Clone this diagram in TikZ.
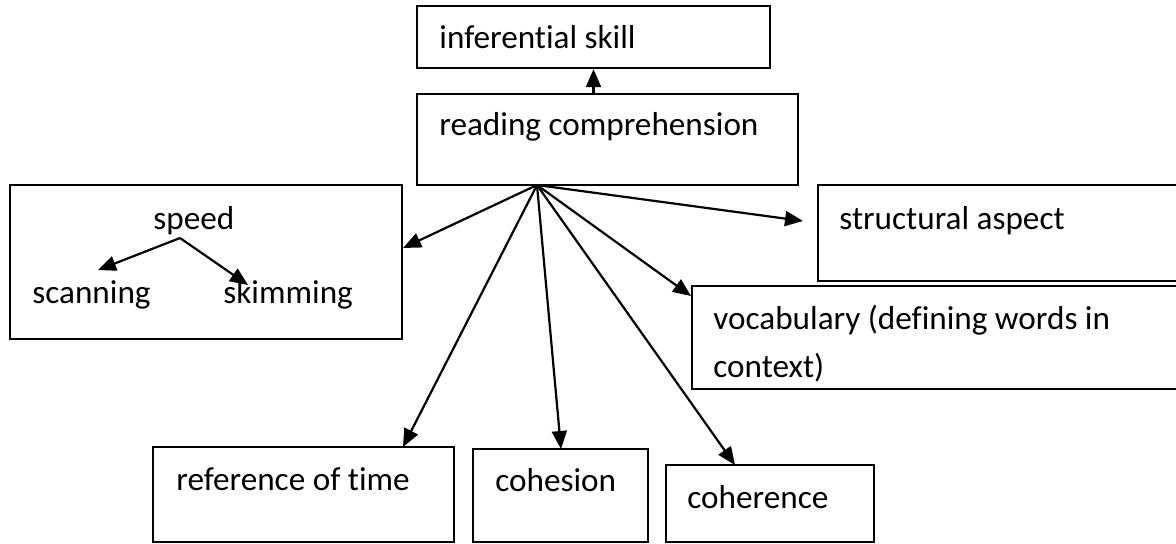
\documentclass[tikz,border=0pt]{standalone}
\usepackage{fontspec}
\setmainfont{Carlito}[Ligatures=NoCommon]
\usetikzlibrary{arrows.meta,fit}
\begin{document}
\begin{tikzpicture}[x=0.5pt,y=-0.5pt,
  box/.style={draw,line width=1.1pt,inner sep=0pt},
  lbl/.style={anchor=base west,inner sep=0pt,font=\fontsize{16.6}{24}\selectfont},
  arr/.style={line width=1.1pt,-{Triangle[length=9pt,width=7.5pt]}}]
\useasboundingbox (0,0) rectangle (1176,543);
% boxes
\node[box,fit={(417,6) (770,68)}] (inf) {};
\node[box,fit={(417,94) (798,185)}] (rc) {};
\node[box,fit={(10,185) (402,339)}] (spd) {};
\node[box,fit={(818,185) (1190,281)}] (str) {};
\node[box,fit={(692,286) (1190,389)}] (voc) {};
\node[box,fit={(153,447) (454,542)}] (ref) {};
\node[box,fit={(473,449) (648,542)}] (coh) {};
\node[box,fit={(666,465) (874,542)}] (cor) {};
% labels
\node[lbl] (tinf) at (439,48) {inferential skill};
\node[lbl] (trc) at (439,135) {reading comprehension};
\node[lbl] (tspd) at (153,229) {speed};
\node[lbl] (tscan) at (32,303) {scanning};
\node[lbl] (tskim) at (223,303) {skimming};
\node[lbl] (tstr) at (839,229) {structural aspect};
\node[lbl] (tvoc1) at (713,329) {vocabulary (defining words in};
\node[lbl] (tvoc2) at (713,377) {context)};
\node[lbl] (tref) at (176,490) {reference of time};
\node[lbl] (tcoh) at (495,491) {cohesion};
\node[lbl] (tcor) at (687,508) {coherence};
% connector points
\coordinate (hub) at (537,185);
\coordinate (tipspd) at (403,248);
\coordinate (tipstr) at (803,221);
\coordinate (tipvoc) at (691,296);
\coordinate (tipref) at (403,447);
\coordinate (tipcoh) at (561,449);
\coordinate (tipcor) at (735,465);
\coordinate (sp0) at (180,238);
\coordinate (tipscan) at (98,270);
\coordinate (tipskim) at (248,285);
% connectors
\draw[arr] (inf.south |- rc.north) -- (inf.south);
\draw[arr] (hub) -- (tipspd);
\draw[arr] (hub) -- (tipstr);
\draw[arr] (hub) -- (tipvoc);
\draw[arr] (hub) -- (tipref);
\draw[arr] (hub) -- (tipcoh);
\draw[arr] (hub) -- (tipcor);
\draw[arr] (sp0) -- (tipscan);
\draw[arr] (sp0) -- (tipskim);
\end{tikzpicture}
\end{document}
